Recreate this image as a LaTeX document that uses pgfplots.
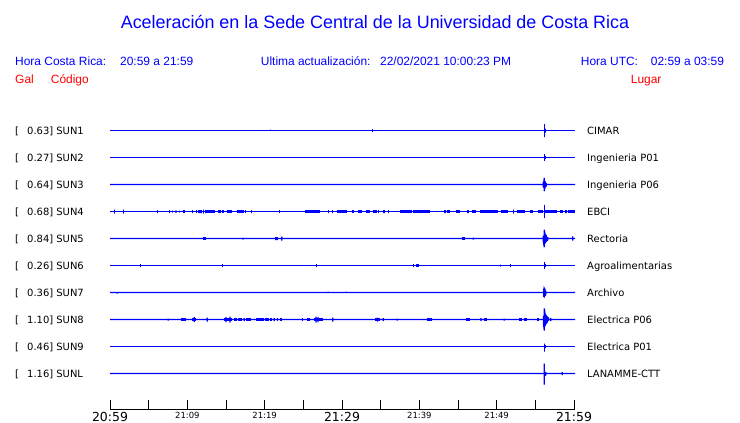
\documentclass[border=0pt]{standalone}
\usepackage{pgfplots}
\pgfplotsset{compat=1.18}
\usepackage{fontspec}
\setmainfont{Liberation Sans}
\newfontfamily\dejavu{DejaVu Sans}
\pgfplotsset{
  trace/.style={color={rgb,255:red,0;green,0;blue,255}, line width=1.2bp, mark=none, line join=miter},
  blk/.style={color={rgb,255:red,0;green,0;blue,255}, line width=3bp, mark=none, unbounded coords=jump},
}
\begin{document}
\begin{tikzpicture}
\path[use as bounding box] (0bp,0bp) rectangle (740bp,423bp);
\begin{axis}[
  at={(0bp,0bp)}, anchor=south west,
  scale only axis, width=740bp, height=423bp,
  hide axis, clip=false,
  xmin=-14.2241, xmax=81.4655, ymin=-0.5, ymax=422.5, y dir=reverse,
]
% SUN1
\addplot[trace] coordinates {(0,130)(20.73,130)(20.73,129)(20.73,130)(33.92,130)(33.92,128.5)(33.92,131.5)(33.92,130)(56.16,130)(56.16,123.5)(56.16,136.5)(56.16,130)(56.28,130)(56.28,128)(56.28,132)(56.28,130)(60.13,130)};
% SUN2
\addplot[trace] coordinates {(0,157)(56.16,157)(56.16,153.7)(56.16,160.3)(56.16,157)(56.26,157)(56.26,155.5)(56.26,158.5)(56.26,157)(60.13,157)};
% SUN3
\addplot[trace] coordinates {(0,184)(56.03,184)(56.03,181.5)(56.03,186.5)(56.10,186.9)(56.10,181)(56.16,177.3)(56.16,190.7)(56.23,187)(56.23,181)(56.30,181.5)(56.30,186.5)(56.40,185.5)(56.40,182.5)(56.40,184)(60.13,184)};
% SUN4
\addplot[trace] coordinates {(0,211)
(0.56,211)(0.56,209)(0.56,213)(0.56,211)
(1.72,211)(1.72,209)(1.72,213)(1.72,211)
(6.17,211)(6.17,209.5)(6.17,212.5)(6.17,211)
(7.67,211)(7.67,209.5)(7.67,212.5)(7.67,211)
(8.11,211)(8.11,210)(8.11,212)(8.11,211)
(8.53,211)(8.53,210)(8.53,212)(8.53,211)
(8.96,211)(8.96,210)(8.96,212)(8.96,211)
(10.64,211)(10.64,209.5)(10.64,212.5)(10.64,211)
(11.16,211)(11.16,209.5)(11.16,212.5)(11.16,211)
(11.51,211)(11.51,209.5)(11.51,212.5)(11.51,211)
(11.77,211)(11.77,209.5)(11.77,212.5)(11.77,211)
(12.12,211)(12.12,209)(12.12,213)(12.12,211)
(12.41,211)(12.41,209.5)(12.41,212.5)(12.41,211)
(17.55,211)(17.55,209.5)(17.55,212.5)(17.55,211)
(18.32,211)(18.32,209.5)(18.32,212.5)(18.32,211)
(21.89,211)(21.89,209.5)(21.89,212.5)(21.89,211)
(28.23,211)(28.23,209.5)(28.23,212.5)(28.23,211)
(28.75,211)(28.75,209.5)(28.75,212.5)(28.75,211)
(34.75,211)(34.75,209.5)(34.75,212.5)(34.75,211)
(35.43,211)(35.43,209.5)(35.43,212.5)(35.43,211)
(35.99,211)(35.99,209.5)(35.99,212.5)(35.99,211)
(43.32,211)(43.32,209.5)(43.32,212.5)(43.32,211)
(46.29,211)(46.29,209.5)(46.29,212.5)(46.29,211)
(52.15,211)(52.15,209)(52.15,213)(52.15,211)
(56.16,211)(56.16,204.3)(56.16,217.7)(56.16,211)
(58.97,211)(58.97,209.5)(58.97,212.5)(58.97,211)
(60.13,211)};
\addplot[blk] coordinates {(9.40,211)(9.66,211)(0,nan)(12.58,211)(13.58,211)(0,nan)(14.00,211)(14.31,211)(0,nan)(14.44,211)(14.78,211)(0,nan)(15.09,211)(15.78,211)(0,nan)(16.38,211)(17.37,211)(0,nan)(25.22,211)(27.16,211)(0,nan)(29.31,211)(30.61,211)(0,nan)(31.33,211)(31.55,211)(0,nan)(32.03,211)(32.55,211)(0,nan)(33.06,211)(33.62,211)(0,nan)(33.97,211)(34.49,211)(0,nan)(37.50,211)(39.01,211)(0,nan)(39.22,211)(41.38,211)(0,nan)(43.54,211)(43.97,211)(0,nan)(44.74,211)(45.26,211)(0,nan)(46.81,211)(47.33,211)(0,nan)(47.84,211)(50.17,211)(0,nan)(50.52,211)(51.47,211)(0,nan)(52.59,211)(53.66,211)(0,nan)(54.31,211)(54.70,211)(0,nan)(55.34,211)(55.99,211)(0,nan)(56.25,211)(57.76,211)(0,nan)(58.19,211)(58.58,211)(0,nan)(59.22,211)(60.13,211)};
% SUN5
\addplot[trace] coordinates {(0,238)
(17.20,238)(17.20,237)(17.20,239)(17.20,238)
(21.43,238)(21.43,236.5)(21.43,239.5)(21.43,238)
(21.63,238)(21.63,236.5)(21.63,239.5)(21.63,238)
(22.20,238)(22.20,236)(22.20,240)(22.20,238)
(46.98,238)(46.98,237)(46.98,239)(46.98,238)
(56.03,238)(56.03,235)(56.03,241)(56.16,246.7)(56.16,229.3)(56.25,233.5)(56.25,242.5)(56.35,241.5)(56.35,234.5)(56.45,235.5)(56.45,240.5)(56.60,239.5)(56.60,236.5)(56.60,238)
(59.83,238)(59.83,235.8)(59.83,240.2)(59.83,238)
(60.13,238)};
\addplot[blk] coordinates {(12.03,238)(12.41,238)(0,nan)(45.52,238)(45.91,238)};
% SUN6
\addplot[trace] coordinates {(0,265)
(3.97,265)(3.97,263.5)(3.97,266.5)(3.97,265)
(14.52,265)(14.52,263.5)(14.52,266.5)(14.52,265)
(26.68,265)(26.68,263.5)(26.68,266.5)(26.68,265)
(39.22,265)(39.22,263.5)(39.22,266.5)(39.22,265)
(50.47,265)(50.47,264)(50.47,266)(50.47,265)
(51.76,265)(51.76,263.5)(51.76,266.5)(51.76,265)
(56.16,265)(56.16,261.7)(56.16,268.3)(56.16,265)
(56.26,265)(56.26,263.5)(56.26,266.5)(56.26,265)
(60.13,265)};
\addplot[blk] coordinates {(39.53,265)(39.96,265)};
% SUN7
\addplot[trace] coordinates {(0,292)
(0.94,292)(0.94,293)(0.94,292)
(28.23,292)(28.23,291)(28.23,292)
(30.56,292)(30.56,291)(30.56,292)
(56.10,292)(56.10,288)(56.10,296)(56.16,296.3)(56.16,287.7)(56.25,289)(56.25,295)(56.35,294)(56.35,290)(56.35,292)
(60.13,292)};
% SUN8
\addplot[trace] coordinates {(0,319)
(7.54,319)(7.54,318)(7.54,320)(7.54,319)
(10.90,319)(10.90,316.5)(10.90,321.5)(10.90,319)
(12.58,319)(12.58,317)(12.58,321)(12.58,319)
(15.00,319)(15.00,316.5)(15.00,321.5)(15.00,319)
(15.52,319)(15.52,316)(15.52,322)(15.52,319)
(17.37,319)(17.37,317.5)(17.37,320.5)(17.37,319)
(21.25,319)(21.25,317.5)(21.25,320.5)(21.25,319)
(26.64,319)(26.64,316)(26.64,322)(26.64,319)
(26.90,319)(26.90,316.5)(26.90,321.5)(26.90,319)
(28.80,319)(28.80,317)(28.80,321)(28.80,319)
(34.59,319)(34.59,317)(34.59,321)(34.59,319)
(35.34,319)(35.34,317.5)(35.34,320.5)(35.34,319)
(37.15,319)(37.15,318)(37.15,320)(37.15,319)
(47.97,319)(47.97,317.5)(47.97,320.5)(47.97,319)
(50.99,319)(50.99,318)(50.99,320)(50.99,319)
(56.05,319)(56.05,315)(56.05,323)(56.16,330)(56.16,308)(56.25,313)(56.25,325)(56.35,323.5)(56.35,314.5)(56.45,315.5)(56.45,322.5)(56.55,321.5)(56.55,316.5)(56.70,317.5)(56.70,320.5)(56.70,319)
(56.99,319)(56.99,317.5)(56.99,320.5)(56.99,319)
(60.13,319)};
\addplot[blk, line width=3.2bp] coordinates {(9.18,319)(9.83,319)(0,nan)(10.56,319)(11.08,319)(0,nan)(14.74,319)(15.82,319)(0,nan)(16.03,319)(16.38,319)(0,nan)(16.59,319)(17.11,319)(0,nan)(17.55,319)(18.19,319)(0,nan)(18.88,319)(19.91,319)(0,nan)(20.04,319)(20.56,319)(0,nan)(20.69,319)(20.99,319)(0,nan)(21.55,319)(21.76,319)(0,nan)(21.98,319)(22.20,319)(0,nan)(24.79,319)(25.00,319)(0,nan)(25.43,319)(25.86,319)(0,nan)(26.42,319)(27.58,319)(0,nan)(34.27,319)(34.91,319)(0,nan)(41.03,319)(41.60,319)(0,nan)(46.03,319)(46.55,319)(0,nan)(48.40,319)(48.70,319)(0,nan)(52.93,319)(53.32,319)(0,nan)(53.57,319)(53.87,319)(0,nan)(55.25,319)(55.47,319)};
% SUN9
\addplot[trace] coordinates {(0,346)(56.16,346)(56.16,343)(56.16,351)(56.16,346)(56.26,346)(56.26,344.5)(56.26,347.5)(56.26,346)(60.13,346)};
% SUNL
\addplot[trace] coordinates {(0,373)(56.16,373)(56.16,363)(56.16,384)(56.16,373)(56.25,373)(56.25,371)(56.25,375)(56.35,374.5)(56.35,371.5)(56.35,373)(58.49,373)(58.49,371.5)(58.49,374.5)(58.49,373)(60.13,373)};
\end{axis}
% time axis
\begin{axis}[
  at={(110bp,13.5bp)}, anchor=south west,
  scale only axis, width=464bp, height=20bp,
  xmin=0, xmax=60, ymin=0, ymax=1,
  axis x line=bottom, axis y line=none,
  x axis line style={-, black, line width=1bp},
  xtick={0,5,...,60},
  xticklabels={{\fontsize{12.5}{12.5}\selectfont 20:59},{},{\fontsize{8.5}{8.5}\selectfont 21:09},{},{\fontsize{8.5}{8.5}\selectfont 21:19},{},{\fontsize{12.5}{12.5}\selectfont 21:29},{},{\fontsize{8.5}{8.5}\selectfont 21:39},{},{\fontsize{8.5}{8.5}\selectfont 21:49},{},{\fontsize{12.5}{12.5}\selectfont 21:59}},
  xticklabel style={font=\dejavu, anchor=north, inner sep=0pt, yshift=-2.5bp, text=black},
  tick align=inside, major tick length=9bp,
  every tick/.style={black, line width=1bp},
]
\addplot[draw=none] coordinates {(0,0)(60,0)};
\end{axis}
% header text
\definecolor{hblue}{RGB}{0,0,255}
\definecolor{hred}{RGB}{255,0,0}
\node[anchor=base, text=hblue, inner sep=0pt] at (375bp,394.5bp) {\fontsize{18}{20}\selectfont Aceleración en la Sede Central de la Universidad de Costa Rica};
\begin{scope}[every node/.style={anchor=base west, inner sep=0pt, text=hblue, font=\fontsize{12}{14}\selectfont}]
\node at (15bp,357.5bp) {Hora Costa Rica:};
\node at (120bp,357.5bp) {20:59 a 21:59};
\node at (260.7bp,357.5bp) {Ultima actualización:};
\node at (380bp,357.5bp) {22/02/2021 10:00:23 PM};
\node at (580.7bp,357.5bp) {Hora UTC:};
\node at (650.7bp,357.5bp) {02:59 a 03:59};
\node[text=hred] at (15bp,339bp) {Gal};
\node[text=hred] at (50.7bp,339bp) {Código};
\node[text=hred] at (630.7bp,339bp) {Lugar};
\end{scope}
\begin{scope}[every node/.style={anchor=base west, inner sep=0pt, text=black, font=\dejavu\fontsize{10}{12}\selectfont}]
\foreach \b/\g/\c/\l in {130/0.63/SUN1/CIMAR, 157/0.27/SUN2/Ingenieria P01, 184/0.64/SUN3/Ingenieria P06, 211/0.68/SUN4/EBCI, 238/0.84/SUN5/Rectoria, 265/0.26/SUN6/Agroalimentarias, 292/0.36/SUN7/Archivo, 319/1.10/SUN8/Electrica P06, 346/0.46/SUN9/Electrica P01, 373/1.16/SUNL/LANAMME-CTT}{
  \node at (15bp,{(419-\b)*1bp}) {[};
  \node at (27bp,{(419-\b)*1bp}) {\g] \c};
  \node at (587bp,{(419-\b)*1bp}) {\l};
}
\end{scope}
\end{tikzpicture}
\end{document}
